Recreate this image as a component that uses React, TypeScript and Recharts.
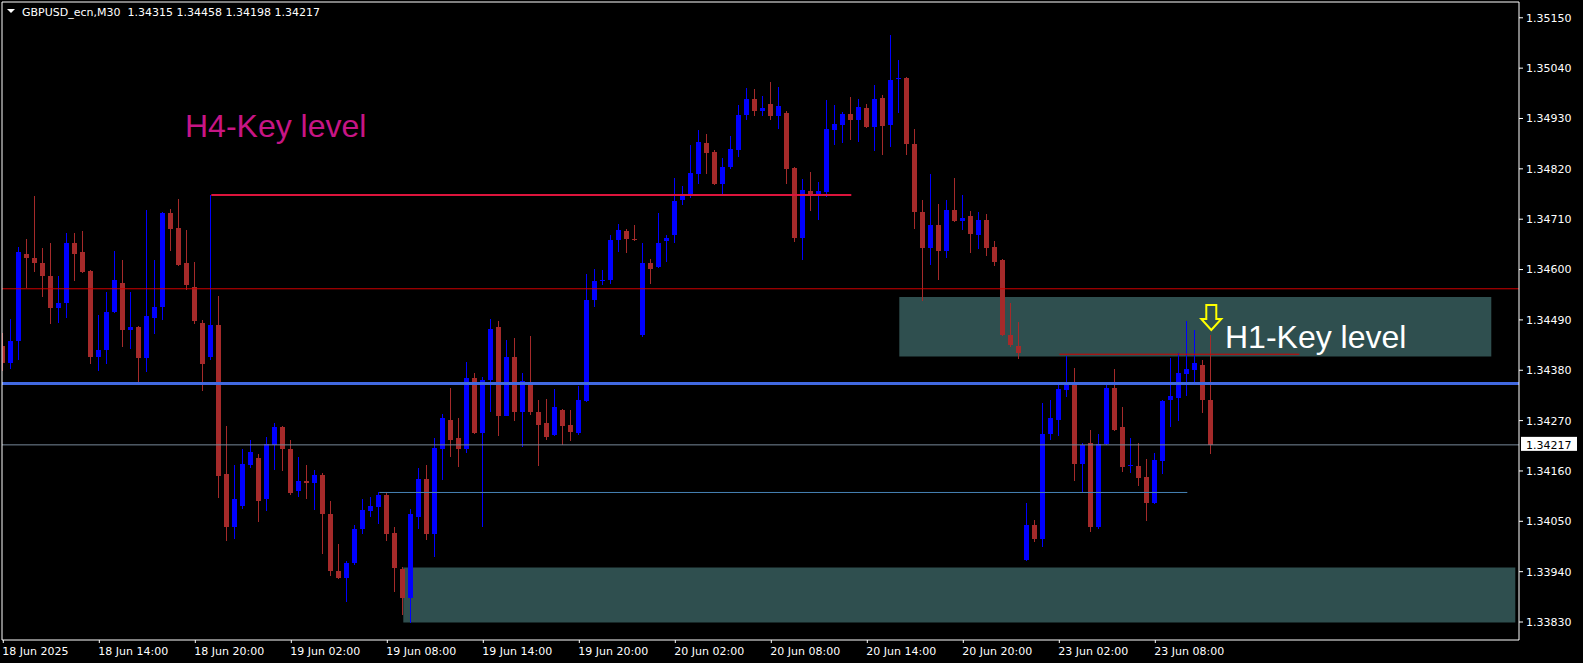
import {
  Bar,
  ComposedChart,
  ReferenceArea,
  ReferenceDot,
  ReferenceLine,
  XAxis,
  YAxis,
} from 'recharts'

// GBPUSD M30, one bar per 30 minutes, 18 Jun 08:00 -> 23 Jun 11:30
const OPEN = [
  1.34434, 1.34396, 1.34443, 1.34635, 1.34626, 1.34614, 1.34587, 1.34515, 1.34528, 1.34658,
  1.34638, 1.34596, 1.3441, 1.34424, 1.34507, 1.3457, 1.34469, 1.34475, 1.34406, 1.34495,
  1.34519, 1.34724, 1.3469, 1.34614, 1.34561, 1.34484, 1.3441, 1.34478, 1.34153, 1.34037,
  1.34084, 1.34174, 1.34189, 1.34098, 1.34217, 1.34255, 1.34207, 1.34117, 1.34139, 1.34134,
  1.34152, 1.34065, 1.33941, 1.33927, 1.33958, 1.34033, 1.34072, 1.34082, 1.34108, 1.34024,
  1.33946, 1.33882, 1.3406, 1.34143, 1.34022, 1.34209, 1.34272, 1.34231, 1.34208, 1.34364,
  1.34244, 1.34358, 1.34474, 1.34281, 1.34408, 1.34288, 1.34355, 1.34288, 1.34264, 1.34238,
  1.34294, 1.34261, 1.34244, 1.34312, 1.34533, 1.34575, 1.34578, 1.34664, 1.34684, 1.34666,
  1.34456, 1.34614, 1.34605, 1.34662, 1.34675, 1.34751, 1.34763, 1.34809, 1.34876, 1.34857,
  1.34786, 1.34825, 1.34861, 1.34937, 1.34972, 1.34946, 1.34961, 1.34935, 1.34942, 1.34821,
  1.3467, 1.34771, 1.34765, 1.34769, 1.34905, 1.34916, 1.3494, 1.34926, 1.34952, 1.34911,
  1.34975, 1.34916, 1.35016, 1.35018, 1.34874, 1.34726, 1.34646, 1.34697, 1.3464, 1.3473,
  1.34706, 1.34718, 1.34675, 1.34709, 1.34649, 1.3462, 1.34458, 1.34432, 1.33966, 1.34042,
  1.34012, 1.3424, 1.34272, 1.34336, 1.34347, 1.34175, 1.3422, 1.34037, 1.34218, 1.34342,
  1.34255, 1.3417, 1.3417, 1.34146, 1.3409, 1.34181, 1.34314, 1.3432, 1.34371, 1.3438,
  1.34392, 1.34315,
]
const HIGH = [
  1.34461, 1.34491, 1.3465, 1.34666, 1.3476, 1.34646, 1.34659, 1.34587, 1.34679, 1.34679,
  1.34684, 1.34598, 1.345, 1.3455, 1.3464, 1.3462, 1.34552, 1.34477, 1.3473, 1.3462,
  1.34726, 1.34733, 1.34755, 1.34686, 1.34616, 1.34489, 1.34763, 1.34543, 1.34259, 1.34174,
  1.34208, 1.34228, 1.34198, 1.34235, 1.34264, 1.34258, 1.34228, 1.34191, 1.34174, 1.34163,
  1.34155, 1.34095, 1.34001, 1.33963, 1.34042, 1.34099, 1.34104, 1.34113, 1.34111, 1.34037,
  1.3395, 1.34077, 1.34167, 1.34174, 1.34233, 1.34284, 1.34342, 1.34276, 1.34397, 1.34375,
  1.34365, 1.34493, 1.34487, 1.34445, 1.34451, 1.34373, 1.34454, 1.34314, 1.34318, 1.34338,
  1.34296, 1.34294, 1.34346, 1.3459, 1.34602, 1.346, 1.34675, 1.34699, 1.34688, 1.34697,
  1.34659, 1.34622, 1.34723, 1.34675, 1.348, 1.34782, 1.34872, 1.34905, 1.34896, 1.34861,
  1.34843, 1.34892, 1.34959, 1.34996, 1.34994, 1.34979, 1.35009, 1.34999, 1.34946, 1.34823,
  1.34798, 1.34813, 1.34791, 1.3497, 1.34959, 1.34944, 1.34976, 1.34972, 1.34961, 1.35003,
  1.34981, 1.35112, 1.35058, 1.3502, 1.34907, 1.34753, 1.34809, 1.34743, 1.34751, 1.348,
  1.34762, 1.34727, 1.34726, 1.34721, 1.34662, 1.34622, 1.34528, 1.34486, 1.34091, 1.34053,
  1.34309, 1.34316, 1.34349, 1.34412, 1.34384, 1.3422, 1.3425, 1.34241, 1.34347, 1.34382,
  1.343, 1.34233, 1.3422, 1.34187, 1.342, 1.34314, 1.34406, 1.34417, 1.34487, 1.34469,
  1.34403, 1.34458,
]
const LOW = [
  1.34378, 1.34381, 1.34403, 1.34558, 1.34594, 1.34539, 1.34483, 1.34484, 1.34493, 1.34575,
  1.34592, 1.34393, 1.34377, 1.34392, 1.34504, 1.3443, 1.34428, 1.34353, 1.34375, 1.34458,
  1.34489, 1.34642, 1.34609, 1.34555, 1.34481, 1.34334, 1.34403, 1.34101, 1.34008, 1.34013,
  1.34077, 1.34166, 1.3405, 1.34073, 1.34162, 1.34159, 1.34108, 1.34104, 1.34099, 1.34075,
  1.33978, 1.33932, 1.33925, 1.33873, 1.33954, 1.34022, 1.34061, 1.34042, 1.34007, 1.33895,
  1.33845, 1.33827, 1.34033, 1.3401, 1.33974, 1.34139, 1.34191, 1.3417, 1.34198, 1.34242,
  1.34037, 1.3429, 1.34235, 1.34279, 1.3427, 1.34211, 1.34281, 1.3417, 1.34229, 1.34236,
  1.34218, 1.34226, 1.3424, 1.3431, 1.34519, 1.34567, 1.34567, 1.34638, 1.34635, 1.34662,
  1.34454, 1.34567, 1.34603, 1.34616, 1.34658, 1.34741, 1.34756, 1.34786, 1.34809, 1.34784,
  1.34765, 1.34819, 1.34845, 1.34926, 1.34935, 1.34935, 1.34925, 1.34907, 1.34786, 1.34659,
  1.34622, 1.34727, 1.34708, 1.34758, 1.34872, 1.34876, 1.34881, 1.34878, 1.34909, 1.34859,
  1.3485, 1.34868, 1.34942, 1.3485, 1.34688, 1.34533, 1.34611, 1.34578, 1.34625, 1.34703,
  1.34685, 1.34635, 1.34646, 1.34629, 1.34607, 1.34454, 1.34432, 1.34406, 1.33964, 1.34006,
  1.33994, 1.34229, 1.34235, 1.34323, 1.34138, 1.34111, 1.34028, 1.34033, 1.34216, 1.34247,
  1.34157, 1.34157, 1.34126, 1.34052, 1.34088, 1.34153, 1.34255, 1.34268, 1.34323, 1.34353,
  1.34288, 1.34198,
]
const CLOSE = [
  1.34396, 1.34443, 1.34638, 1.34625, 1.34614, 1.34585, 1.34515, 1.34528, 1.34659, 1.34635,
  1.34594, 1.3441, 1.34425, 1.34508, 1.34578, 1.34469, 1.34475, 1.34406, 1.34498, 1.34519,
  1.34724, 1.34689, 1.34611, 1.34566, 1.34487, 1.34393, 1.34478, 1.3415, 1.34037, 1.34098,
  1.34176, 1.34202, 1.34094, 1.34219, 1.34257, 1.34207, 1.34111, 1.34139, 1.34133, 1.34152,
  1.34067, 1.33941, 1.33927, 1.33958, 1.34033, 1.34074, 1.34083, 1.34107, 1.34022, 1.33948,
  1.33883, 1.34065, 1.34143, 1.34022, 1.34211, 1.34275, 1.34228, 1.34209, 1.34364, 1.34244,
  1.34358, 1.34471, 1.34279, 1.3441, 1.34288, 1.34357, 1.34288, 1.34261, 1.34235, 1.34299,
  1.34259, 1.34246, 1.34314, 1.34534, 1.34575, 1.34578, 1.34664, 1.34686, 1.34666, 1.34664,
  1.34614, 1.34602, 1.34659, 1.3467, 1.3475, 1.3476, 1.3481, 1.34878, 1.34854, 1.34786,
  1.34825, 1.34863, 1.34937, 1.34972, 1.34946, 1.34952, 1.34935, 1.34957, 1.34819, 1.3467,
  1.34774, 1.34762, 1.34771, 1.34907, 1.34917, 1.3494, 1.34926, 1.34955, 1.34911, 1.34972,
  1.34913, 1.35014, 1.35018, 1.34874, 1.34726, 1.34646, 1.34697, 1.3464, 1.3473, 1.34706,
  1.34712, 1.34677, 1.34709, 1.34646, 1.34616, 1.34456, 1.34436, 1.34417, 1.34042, 1.34012,
  1.34241, 1.34275, 1.3434, 1.34347, 1.34175, 1.34216, 1.34037, 1.34218, 1.34342, 1.34249,
  1.34168, 1.34172, 1.34144, 1.3409, 1.34183, 1.34312, 1.34323, 1.34375, 1.34382, 1.34395,
  1.34314, 1.34217,
]

const TIME_TICKS = [0, 12, 24, 36, 48, 60, 72, 84, 96, 108, 120, 132, 144]
const TIME_LABELS = [
  '18 Jun 2025', '18 Jun 14:00', '18 Jun 20:00', '19 Jun 02:00', '19 Jun 08:00',
  '19 Jun 14:00', '19 Jun 20:00', '20 Jun 02:00', '20 Jun 08:00', '20 Jun 14:00',
  '20 Jun 20:00', '23 Jun 02:00', '23 Jun 08:00',
]
const PRICE_TICKS = [
  1.3383, 1.3394, 1.3405, 1.3416, 1.3427, 1.3438, 1.3449, 1.346, 1.3471, 1.3482,
  1.3493, 1.3504, 1.3515,
]

// levels drawn on the chart (price) and where they start/stop (bar index)
const H4_LEVEL = { price: 1.34763, from: 26, to: 106 }
const SUPPORT = { price: 1.34113, from: 47, to: 148 }
const H1_LINE = { price: 1.34415, from: 132, to: 162 }
const RED_LEVEL = 1.34558
const BLUE_LEVEL = 1.34351
const LAST_PRICE = 1.34217
const H1_ZONE = { from: 112, to: 186, top: 1.3454, bottom: 1.3441 }
const LOW_ZONE = { from: 50, to: 189, top: 1.33949, bottom: 1.33829 }

const X_DOMAIN: [number, number] = [-0.1625, 189.4625]
const Y_DOMAIN: [number, number] = [1.337907, 1.351845]

const BULL = '#0000ff'
const BEAR = '#a52a2a'
const AXIS_FONT = "'DejaVu Sans', sans-serif"
const LABEL_FONT = "'Liberation Sans', Arial, sans-serif"

const rows = OPEN.map((o, i) => ({
  i,
  o,
  h: HIGH[i],
  l: LOW[i],
  c: CLOSE[i],
  range: [LOW[i], HIGH[i]],
}))

function Candle(props: any) {
  const { x, y, width, height, payload } = props
  if (!payload) return null
  const { o, h, l, c } = payload
  const color = c >= o ? BULL : BEAR
  const top = Math.min(y, y + height)
  const span = Math.abs(height)
  const py = (v: number) => top + ((h - v) / (h - l || 1e-9)) * span
  const cx = Math.floor(x + width / 2)
  const bTop = Math.round(py(Math.max(o, c)))
  const bBot = Math.round(py(Math.min(o, c)))
  return (
    <g shapeRendering="crispEdges">
      <rect x={cx} y={Math.round(top)} width={1} height={Math.max(1, Math.round(span))} fill={color} />
      <rect x={cx - 2} y={bTop} width={5} height={Math.max(1, bBot - bTop)} fill={color} />
    </g>
  )
}

function TimeTick(props: any) {
  const { x, y, index } = props
  return (
    <text x={x - 1} y={y + 10} fill="#ffffff" fontSize={11} fontFamily={AXIS_FONT} textAnchor="start">
      {TIME_LABELS[index]}
    </text>
  )
}

function LastPriceTag(props: any) {
  const { viewBox } = props
  if (!viewBox) return null
  const x0 = viewBox.x + viewBox.width + 2
  const y0 = viewBox.y
  return (
    <g>
      <rect x={x0} y={y0 - 8} width={56} height={14} fill="#ffffff" />
      <text x={x0 + 5} y={y0 + 4} fill="#000000" fontSize={11} fontFamily={AXIS_FONT}>
        {LAST_PRICE.toFixed(5)}
      </text>
    </g>
  )
}

const keyText = (text: string, color: string) => (p: any) => (
  <text x={p.cx} y={p.cy} fill={color} fontSize={32} fontFamily={LABEL_FONT}>
    {text}
  </text>
)

const downArrow = (p: any) => {
  const { cx, cy } = p
  const pts = [
    [0, 0], [-10, -11], [-5, -11], [-5, -25], [5, -25], [5, -11], [10, -11],
  ]
    .map(([dx, dy]) => `${cx + dx},${cy + dy}`)
    .join(' ')
  return <polygon points={pts} fill="none" stroke="#ffff00" strokeWidth={2} />
}

export default function App() {
  return (
    <div style={{ position: 'absolute', left: 0, top: 0, width: 1583, height: 663, background: '#000' }}>
      <div
        style={{
          position: 'absolute',
          left: 7,
          top: 6,
          zIndex: 2,
          color: '#ffffff',
          fontFamily: AXIS_FONT,
          fontSize: 11,
          lineHeight: '13px',
          whiteSpace: 'pre',
        }}
      >
        <svg width={8} height={5} style={{ marginRight: 7, verticalAlign: 2 }}>
          <polygon points="0,0 8,0 4,4" fill="#ffffff" />
        </svg>
        GBPUSD_ecn,M30  1.34315 1.34458 1.34198 1.34217
      </div>
      <ComposedChart
        width={1583}
        height={663}
        data={rows}
        margin={{ top: 2, right: 0, bottom: 0, left: 2 }}
      >
        <XAxis
          dataKey="i"
          type="number"
          domain={X_DOMAIN}
          allowDataOverflow
          ticks={TIME_TICKS}
          interval={0}
          height={23}
          tick={TimeTick}
          tickSize={3}
          tickMargin={2}
          stroke="#ffffff"
          axisLine={{ stroke: '#ffffff' }}
          tickLine={{ stroke: '#ffffff' }}
        />
        <YAxis
          orientation="right"
          type="number"
          domain={Y_DOMAIN}
          allowDataOverflow
          ticks={PRICE_TICKS}
          interval={0}
          width={64}
          tickSize={4}
          tickMargin={3}
          tickFormatter={(v: number) => v.toFixed(5)}
          tick={{ fill: '#ffffff', fontSize: 11, fontFamily: AXIS_FONT }}
          axisLine={{ stroke: '#ffffff' }}
          tickLine={{ stroke: '#ffffff' }}
        />
        <ReferenceArea
          x1={H1_ZONE.from}
          x2={H1_ZONE.to}
          y1={H1_ZONE.bottom}
          y2={H1_ZONE.top}
          fill="#2f4f4f"
          fillOpacity={1}
          stroke="none"
        />
        <ReferenceArea
          x1={LOW_ZONE.from}
          x2={LOW_ZONE.to}
          y1={LOW_ZONE.bottom}
          y2={LOW_ZONE.top}
          fill="#2f4f4f"
          fillOpacity={1}
          stroke="none"
        />
        <Bar dataKey="range" barSize={5} shape={Candle} isAnimationActive={false} />
        <ReferenceLine y={RED_LEVEL} stroke="#d00000" strokeWidth={1} />
        <ReferenceLine y={LAST_PRICE} stroke="#778899" strokeWidth={1} label={LastPriceTag} />
        <ReferenceLine y={BLUE_LEVEL} stroke="#4169e1" strokeWidth={3} />
        <ReferenceLine
          segment={[
            { x: H4_LEVEL.from, y: H4_LEVEL.price },
            { x: H4_LEVEL.to, y: H4_LEVEL.price },
          ]}
          stroke="#dc143c"
          strokeWidth={2}
        />
        <ReferenceLine
          segment={[
            { x: SUPPORT.from, y: SUPPORT.price },
            { x: SUPPORT.to, y: SUPPORT.price },
          ]}
          stroke="#4682b4"
          strokeWidth={1}
        />
        <ReferenceLine
          segment={[
            { x: H1_LINE.from, y: H1_LINE.price },
            { x: H1_LINE.to, y: H1_LINE.price },
          ]}
          stroke="#d00000"
          strokeWidth={1}
        />
        <ReferenceLine x={X_DOMAIN[0]} stroke="#ffffff" />
        <ReferenceLine y={Y_DOMAIN[1]} stroke="#ffffff" />
        <ReferenceDot x={22.71} y={1.348885} r={0} shape={keyText('H4-Key level', '#c71585')} />
        <ReferenceDot x={152.71} y={1.34428} r={0} shape={keyText('H1-Key level', '#ffffff')} />
        <ReferenceDot x={151} y={1.34468} r={0} shape={downArrow} />
      </ComposedChart>
    </div>
  )
}
